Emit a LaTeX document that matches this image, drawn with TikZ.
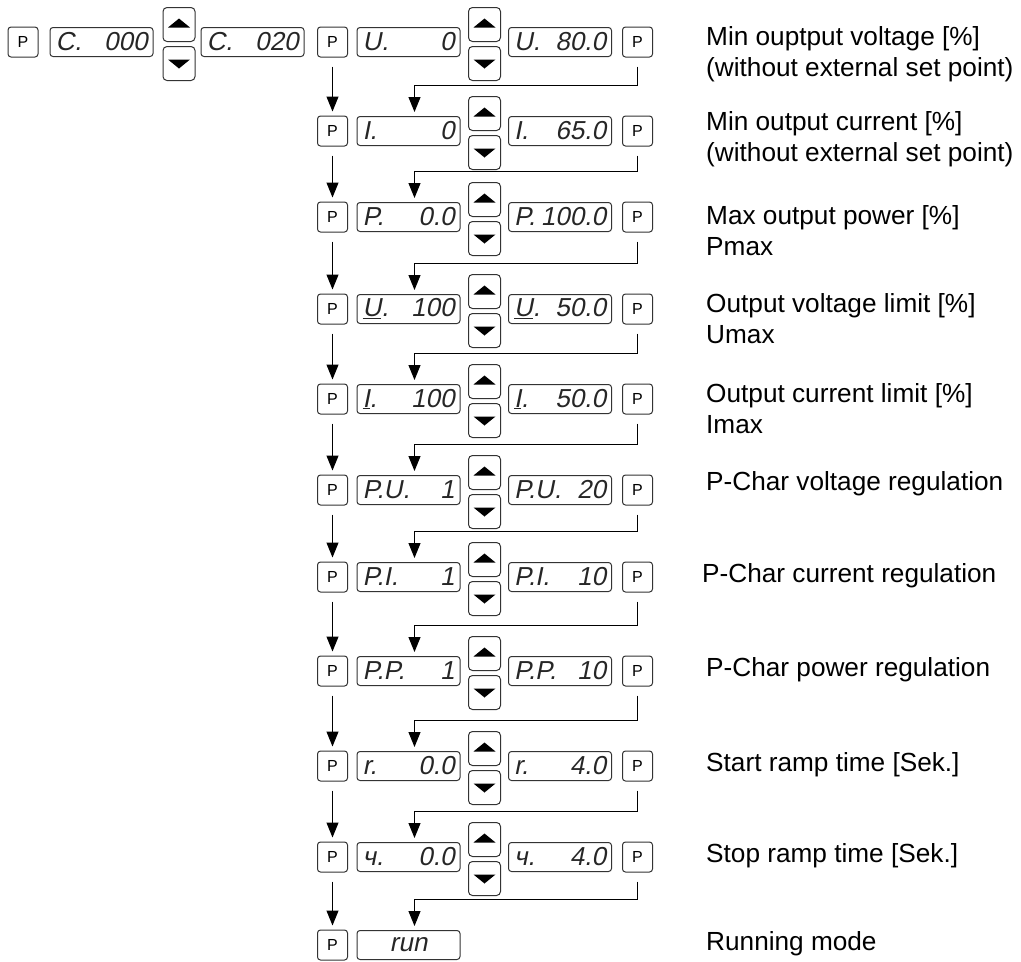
\documentclass[tikz,border=0pt]{standalone}
\usepackage{fontspec}
\setmainfont{Liberation Sans}
\newfontfamily\segfont[FakeSlant=0.2]{Liberation Sans}
\usetikzlibrary{arrows.meta}
\newcommand{\colP}{332.5}
\newcommand{\colLo}{408.5}
\newcommand{\colBtn}{484.5}
\newcommand{\colHi}{560}
\newcommand{\colQ}{637.5}
\newcommand{\colText}{706}
\newcommand{\segText}[2]{\makebox[92pt]{#1\hfill#2}}
% one parameter row: P, low value, up/down keys, high value, P
\newcommand{\paramRow}[5]{%
  \node[pkey] (p#1) at (\colP,#2) {P};
  \node[disp] (lo#1) at (\colLo,#2) {\segText{#3}{#4}};
  \node[updown, anchor=south] (up#1) at (\colBtn,#2) {};
  \node[updown, anchor=north] (dn#1) at (\colBtn,#2+4) {};
  \fill ([shift={(-11,3)}]up#1.center) -- ++(22,0) -- ++(-11,-9) -- cycle;
  \fill ([shift={(-11,-4)}]dn#1.center) -- ++(22,0) -- ++(-11,9) -- cycle;
  \node[disp] (hi#1) at (\colHi,#2) {\segText{#3}{#5}};
  \node[pkey] (q#1) at (\colQ,#2) {P};
}

\begin{document}
\begin{tikzpicture}[x=1pt, y=-1pt,
    pkey/.style={draw=black!80, line width=1pt, rounded corners=3pt, minimum width=30pt, minimum height=30pt, inner sep=0pt, font=\fontsize{16}{16}\selectfont},
    disp/.style={draw=black!80, line width=1pt, rounded corners=3pt, minimum width=103pt, minimum height=29pt, inner sep=0pt, text=black!85, font=\segfont\fontsize{26}{26}\selectfont},
    updown/.style={draw=black!80, line width=1pt, rounded corners=4pt, minimum width=32pt, minimum height=34pt, inner sep=0pt},
    flow/.style={draw, line width=1pt, -{Triangle[length=15pt,width=12pt]}, shorten <=9pt, shorten >=4pt},
    desc/.style={anchor=base west, align=left, inner sep=0pt, font=\fontsize{26.2}{31}\selectfont}]
\useasboundingbox (0,0) rectangle (1021,962);

% code entry
\node[pkey] (pc) at (23,42) {P};
\node[disp] (cLo) at (101.5,42) {\segText{C.}{000}};
\node[updown, anchor=south] (upc) at (179,42) {};
\node[updown, anchor=north] (dnc) at (179,46) {};
\fill ([shift={(-11,3)}]upc.center) -- ++(22,0) -- ++(-11,-9) -- cycle;
\fill ([shift={(-11,-4)}]dnc.center) -- ++(22,0) -- ++(-11,9) -- cycle;
\node[disp] (cHi) at (252.5,42) {\segText{C.}{020}};

% parameter rows
\paramRow{1}{42}{U.}{0}{80.0}
\paramRow{2}{131}{I.}{0}{65.0}
\paramRow{3}{217}{P.}{0.0}{100.0}
\paramRow{4}{309}{\underline{U}.}{100}{50.0}
\paramRow{5}{399}{\underline{I}.}{100}{50.0}
\paramRow{6}{490}{P.U.}{1}{20}
\paramRow{7}{577}{P.I.}{1}{10}
\paramRow{8}{671}{P.P.}{1}{10}
\paramRow{9}{766}{r.}{0.0}{4.0}
\paramRow{10}{857}{ч.}{0.0}{4.0}
\node[pkey] (p11) at (\colP,945) {P};
\node[disp] (run) at (\colLo,945) {run};

% P key steps down the list
\draw[flow] (p1) -- (p2);
\draw[flow] (p2) -- (p3);
\draw[flow] (p3) -- (p4);
\draw[flow] (p4) -- (p5);
\draw[flow] (p5) -- (p6);
\draw[flow] (p6) -- (p7);
\draw[flow] (p7) -- (p8);
\draw[flow] (p8) -- (p9);
\draw[flow] (p9) -- (p10);
\draw[flow] (p10) -- (p11);

% P key after editing goes on to next value
\draw[flow] (q1.south) |- ([xshift=6pt,yshift=31pt]lo2.north) -- ([xshift=6pt]lo2.north);
\draw[flow] (q2.south) |- ([xshift=6pt,yshift=31pt]lo3.north) -- ([xshift=6pt]lo3.north);
\draw[flow] (q3.south) |- ([xshift=6pt,yshift=31pt]lo4.north) -- ([xshift=6pt]lo4.north);
\draw[flow] (q4.south) |- ([xshift=6pt,yshift=31pt]lo5.north) -- ([xshift=6pt]lo5.north);
\draw[flow] (q5.south) |- ([xshift=6pt,yshift=31pt]lo6.north) -- ([xshift=6pt]lo6.north);
\draw[flow] (q6.south) |- ([xshift=6pt,yshift=31pt]lo7.north) -- ([xshift=6pt]lo7.north);
\draw[flow] (q7.south) |- ([xshift=6pt,yshift=31pt]lo8.north) -- ([xshift=6pt]lo8.north);
\draw[flow] (q8.south) |- ([xshift=6pt,yshift=31pt]lo9.north) -- ([xshift=6pt]lo9.north);
\draw[flow] (q9.south) |- ([xshift=6pt,yshift=31pt]lo10.north) -- ([xshift=6pt]lo10.north);
\draw[flow] (q10.south) |- ([xshift=6pt,yshift=31pt]run.north) -- ([xshift=6pt]run.north);

% descriptions (base is the last line)
\node[desc] (t1) at (\colText,76) {Min ouptput voltage [\%]\\(without external set point)};
\node[desc] (t2) at (\colText,161) {Min output current [\%]\\(without external set point)};
\node[desc] (t3) at (\colText,255) {Max output power [\%]\\Pmax};
\node[desc] (t4) at (\colText,343) {Output voltage limit [\%]\\Umax};
\node[desc] (t5) at (\colText,433) {Output current limit [\%]\\Imax};
\node[desc] (t6) at (\colText,490) {P-Char voltage regulation};
\node[desc] (t7) at (702,582) {P-Char current regulation};
\node[desc] (t8) at (\colText,676) {P-Char power regulation};
\node[desc] (t9) at (\colText,771) {Start ramp time [Sek.]};
\node[desc] (t10) at (\colText,862) {Stop ramp time [Sek.]};
\node[desc] (t11) at (\colText,950) {Running mode};
\end{tikzpicture}
\end{document}
